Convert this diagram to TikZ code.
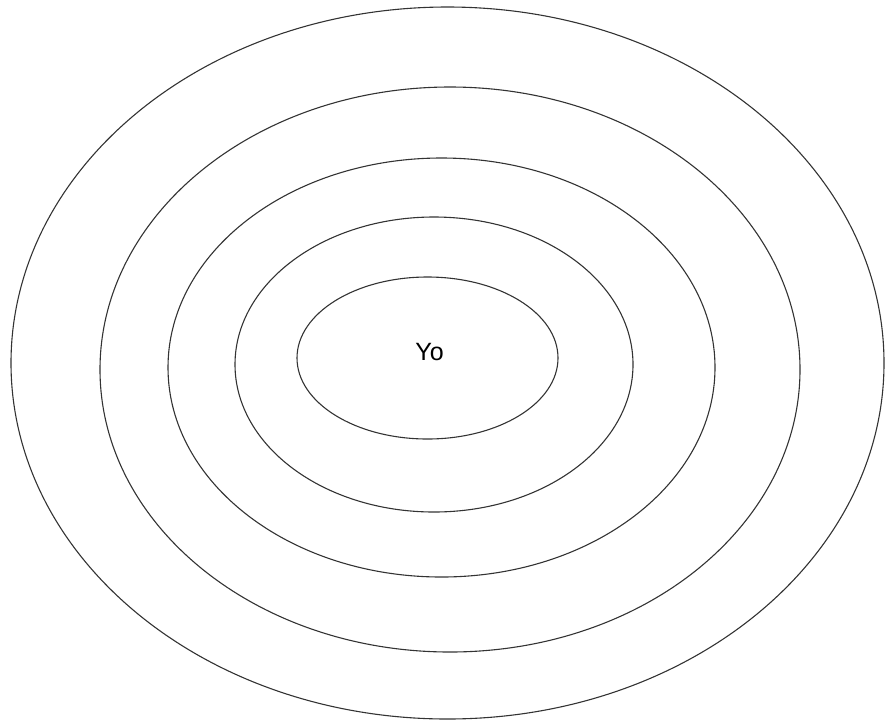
\documentclass[tikz,border=0pt]{standalone}
\usepackage{fontspec}
\usepackage{tikz}
\usetikzlibrary{shapes.geometric}
\newfontfamily\ringfont{Liberation Sans}
\definecolor{RingInk}{HTML}{333333}

\begin{document}
\begin{tikzpicture}[
      x=1pt,y=-1pt,
      ring/.style={draw=RingInk,ellipse,line width=1.1pt,inner sep=0pt,outer sep=0pt},
      tag/.style={font=\ringfont\fontsize{25}{30}\selectfont,text=black,inner sep=0pt}
    ]
      \useasboundingbox (0,0) rectangle (885,721);
      \node[ring,minimum width=873pt,minimum height=712pt] (outer) at (447.5,363) {};
      \node[ring,minimum width=700pt,minimum height=565pt] (fourth) at (450,369.5) {};
      \node[ring,minimum width=547pt,minimum height=419pt] (third) at (441.5,367.5) {};
      \node[ring,minimum width=398pt,minimum height=295pt] (second) at (434,364.5) {};
      \node[ring,minimum width=261pt,minimum height=162pt] (inner) at (427.5,358) {};
      \node[tag] (me) at (429.5,352) {Yo};
    \end{tikzpicture}
\end{document}
